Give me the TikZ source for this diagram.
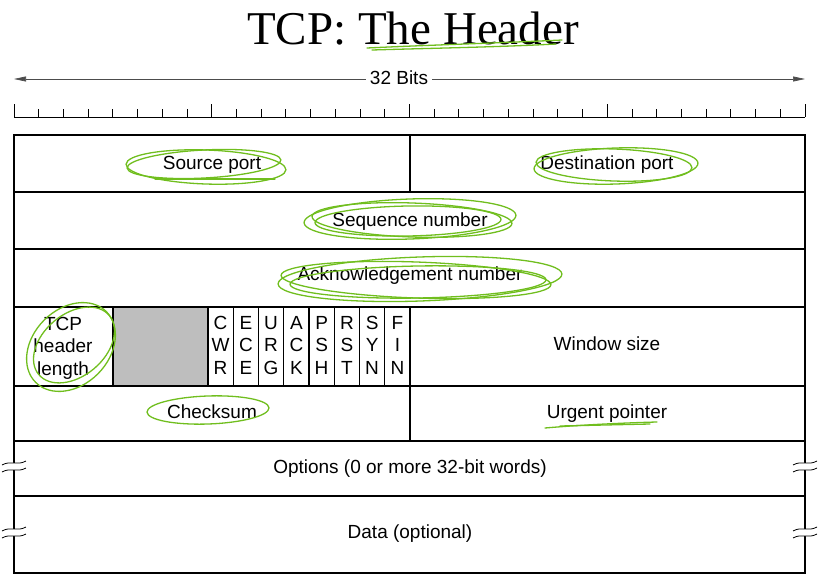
\documentclass[tikz,border=0pt]{standalone}
\usepackage{fontspec}
\setmainfont{Liberation Sans}
\newfontfamily\titlefont{Liberation Serif}
\usetikzlibrary{arrows.meta}
\definecolor{grn}{RGB}{112,190,30}
\definecolor{resv}{RGB}{190,190,190}
\begin{document}
\begin{tikzpicture}[x=1pt,y=-1pt,
  lbl/.style={font=\fontsize{19}{22.5}\selectfont, inner sep=0pt, align=center, anchor=base},
  cell/.style={draw=black, line width=1.1pt},
  tick/.style={draw=black, line width=0.9pt},
  scrib/.style={draw=grn, line width=1.3pt, line cap=round},
  brk/.style={draw=black, line width=0.8pt}]
\useasboundingbox (0,0) rectangle (828,580);

% title
\node[anchor=base, font=\titlefont\fontsize{47}{50}\selectfont, inner sep=0pt] (title) at (413,45) {TCP: The Header};

% 32 bits arrow
\node[lbl, inner xsep=4pt] (bits) at (399,85) {32 Bits};
\coordinate (aL) at (14,79);
\coordinate (aR) at (805,79);
\draw[draw=black!70, line width=0.7pt, -{Triangle[length=12pt,width=5pt]}] (bits.west |- aL) -- (aL);
\draw[draw=black!70, line width=0.7pt, -{Triangle[length=12pt,width=5pt]}] (bits.east |- aR) -- (aR);

% ruler
\draw[tick] (14,117) -- (805,117);
\foreach \i in {0,...,32} {
  \pgfmathsetmacro{\xx}{14+\i*24.71875}
  \pgfmathsetmacro{\tp}{mod(\i,8)==0 ? 104 : 109}
  \draw[tick] (\xx,117) -- (\xx,\tp);
}

% reserved gray
\fill[resv] (113,307) rectangle (208,386);

% rows
\draw[cell] (14,135) rectangle (805,573);
\foreach \yy in {192,249,307,386,441,496} \draw[cell] (14,\yy) -- (805,\yy);
\draw[cell] (410,135) -- (410,192);
\draw[cell] (410,307) -- (410,441);
\draw[cell] (113,307) -- (113,386);
\draw[cell] (208,307) -- (208,386);
\foreach \k in {1,...,7} {
  \pgfmathsetmacro{\xx}{208+\k*25.25}
  \draw[cell] (\xx,307) -- (\xx,386);
}

% break marks
\foreach \bx/\by in {2/462, 2/528, 793/462, 793/528} {
  \fill[white] (\bx,\by+3) .. controls (\bx+9,\by-2) and (\bx+15,\by+4) .. (\bx+24,\by-1)
     -- (\bx+24,\by+6) .. controls (\bx+15,\by+11) and (\bx+9,\by+5) .. (\bx,\by+10) -- cycle;
  \draw[brk] (\bx,\by+3) .. controls (\bx+9,\by-2) and (\bx+15,\by+4) .. (\bx+24,\by-1);
  \draw[brk] (\bx,\by+10) .. controls (\bx+9,\by+5) and (\bx+15,\by+11) .. (\bx+24,\by+6);
}

% labels (anchored at baseline of last line)
\node[lbl] (src) at (212,170) {Source port};
\node[lbl] (dst) at (607,170) {Destination port};
\node[lbl] (seq) at (410,227) {Sequence number};
\node[lbl] (ack) at (410,281) {Acknowledgement number};
\node[lbl] (hlen) at (63,375) {TCP\\header\\length};
\node[lbl] (cwr) at (220.6,374) {C\\W\\R};
\node[lbl] (ece) at (245.9,374) {E\\C\\E};
\node[lbl] (urg) at (271.1,374) {U\\R\\G};
\node[lbl] (ackf) at (296.4,374) {A\\C\\K};
\node[lbl] (psh) at (321.6,374) {P\\S\\H};
\node[lbl] (rst) at (346.9,374) {R\\S\\T};
\node[lbl] (syn) at (372.1,374) {S\\Y\\N};
\node[lbl] (fin) at (397.4,374) {F\\I\\N};
\node[lbl] (win) at (607,351) {Window size};
\node[lbl] (chk) at (212,418) {Checksum};
\node[lbl] (urgp) at (607,418) {Urgent pointer};
\node[lbl] (opt) at (410,473) {Options (0 or more 32-bit words)};
\node[lbl] (data) at (410,538) {Data (optional)};

% green annotations
\draw[scrib] (367,48) .. controls (430,45) and (500,43) .. (562,40);
\draw[scrib] (372,50) .. controls (440,48) and (500,47) .. (556,44);
% source port
\draw[scrib, rotate around={3:(204,164)}] (204,164) ellipse [x radius=77pt, y radius=14pt];
\draw[scrib, rotate around={-2:(206,167)}] (206,167) ellipse [x radius=80pt, y radius=17pt];
\draw[scrib] (155,179) -- (275,179);
% destination port
\draw[scrib, rotate around={2:(616,166)}] (616,166) ellipse [x radius=82pt, y radius=18pt];
\draw[scrib, rotate around={-2:(614,165)}] (614,165) ellipse [x radius=78pt, y radius=16pt];
% sequence number
\draw[scrib, rotate around={2:(410,219)}] (410,219) ellipse [x radius=106pt, y radius=20pt];
\draw[scrib, rotate around={-2:(412,220)}] (412,220) ellipse [x radius=100pt, y radius=17pt];
\draw[scrib, rotate around={1:(408,221)}] (408,221) ellipse [x radius=93pt, y radius=15pt];
% acknowledgement
\draw[scrib, rotate around={2:(420,279)}] (420,279) ellipse [x radius=142pt, y radius=22pt];
\draw[scrib, rotate around={-2:(416,280)}] (416,280) ellipse [x radius=135pt, y radius=18pt];
\draw[scrib, rotate around={1:(418,282)}] (418,282) ellipse [x radius=128pt, y radius=16pt];
% TCP header length
\draw[scrib, rotate around={45:(71,347)}] (71,347) ellipse [x radius=50pt, y radius=38pt];
\draw[scrib, rotate around={40:(74,345)}] (74,345) ellipse [x radius=46pt, y radius=31pt];
% checksum
\draw[scrib, rotate around={2:(208,410)}] (208,410) ellipse [x radius=61pt, y radius=14pt];
% urgent pointer
\draw[scrib] (545,428) .. controls (580,425) and (620,423) .. (657,422);
\draw[scrib] (560,426) -- (650,424);
\end{tikzpicture}
\end{document}
